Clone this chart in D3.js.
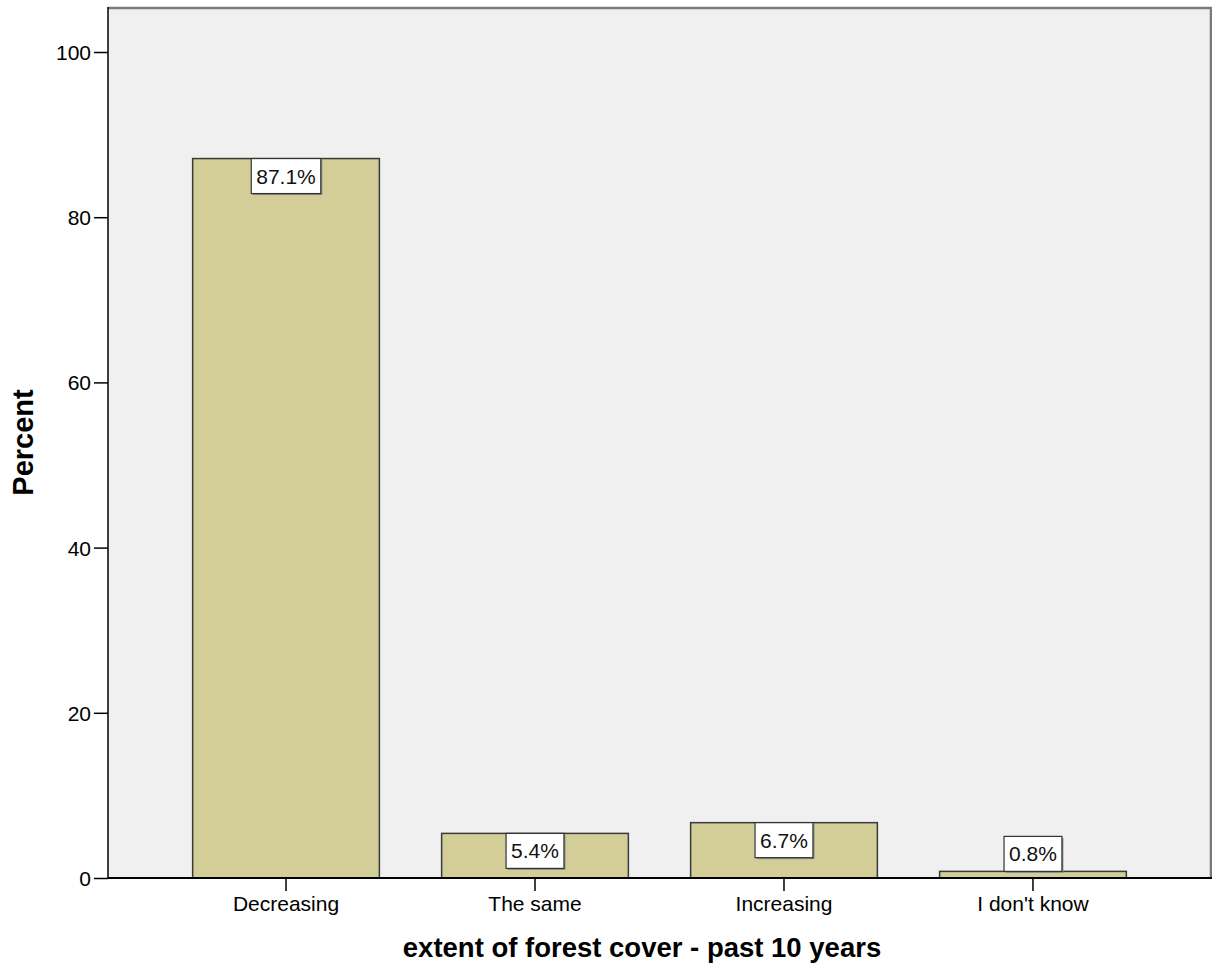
<!DOCTYPE html>
<html>
<head>
<meta charset="utf-8">
<script src="https://cdn.jsdelivr.net/npm/d3@7"></script>
<style>
    html, body { margin: 0; padding: 0; background: #fff; }
    svg { display: block; font-family: "Liberation Sans", Arial, sans-serif; }
</style>
</head>
<body>
<svg id="chart" width="1212" height="970"></svg>
<script>
// data
const categories = ["Decreasing", "The same", "Increasing", "I don't know"];
const percents = [87.1, 5.4, 6.7, 0.8];
const yTicks = [0, 20, 40, 60, 80, 100];
const xTitle = "extent of forest cover - past 10 years";
const yTitle = "Percent";

class percentBarChart {

    constructor({svg, plot = [7, 1211, 878, 108]}) {
        this.svg = d3.select(svg);
        // plot area edges: top, right, bottom, left
        this.plot = {top: plot[0], right: plot[1], bottom: plot[2], left: plot[3]};
        this.barFill = "#d3ce97";
        this.labelH = 35;
    }

    create(data) {
        this.data = data;
        this.scaleX = d3.scaleBand()
            .domain(data.map(d => d[0]))
            .range([this.plot.left, this.plot.right])
            .paddingInner(0.25)
            .paddingOuter(0.34);

        // 100 sits at y=52, top of frame a bit above it
        const perUnit = (this.plot.bottom - 52) / 100;
        this.scaleY = d3.scaleLinear()
            .domain([0, (this.plot.bottom - this.plot.top) / perUnit])
            .range([this.plot.bottom, this.plot.top]);

        this._drawBackground();
        this._drawBars();
        this._drawAxes();
        this._drawLabels();
        this._drawTitles();
    }

    _drawBackground() {
        const p = this.plot;
        this.svg.append("rect")
            .attr("x", p.left).attr("y", p.top)
            .attr("width", p.right - p.left).attr("height", p.bottom - p.top)
            .attr("fill", "#f0f0f0");
        // grey frame top and right
        this.svg.append("path")
            .attr("d", `M${p.left},${p.top + 1}H${p.right}V${p.bottom}`)
            .attr("fill", "none")
            .attr("stroke", "#7a7a7a")
            .attr("stroke-width", 2.5);
    }

    _drawBars() {
        const x = this.scaleX, y = this.scaleY;
        this.svg.append("g").selectAll(".bar").data(this.data).enter()
            .append("rect")
            .attr("class", "bar")
            .attr("x", d => x(d[0]))
            .attr("y", d => y(d[1]))
            .attr("width", x.bandwidth())
            .attr("height", d => y(0) - y(d[1]))
            .attr("fill", this.barFill)
            .attr("stroke", "#3a3a3a")
            .attr("stroke-width", 1.5);
    }

    _drawAxes() {
        const p = this.plot;
        const axisY = d3.axisLeft(this.scaleY).tickValues(yTicks).tickSize(14).tickPadding(3).tickSizeOuter(0);
        const gY = this.svg.append("g").attr("transform", `translate(${p.left},0)`).call(axisY);
        gY.select(".domain").attr("d", `M0,${p.top}V${p.bottom}`).attr("stroke-width", 1.5);

        const axisX = d3.axisBottom(this.scaleX).tickSize(13).tickPadding(5).tickSizeOuter(0);
        const gX = this.svg.append("g").attr("transform", `translate(0,${p.bottom})`).call(axisX);
        gX.select(".domain").attr("d", `M${p.left},0H1212`).attr("stroke-width", 2);

        [gY, gX].forEach(g => {
            g.selectAll(".tick line").attr("stroke", "#000").attr("stroke-width", 1.5);
            g.selectAll(".tick text")
                .attr("fill", "#000")
                .style("font-size", "21px")
                .style("font-family", "'Liberation Sans', Arial, sans-serif");
        });
        gY.selectAll(".tick text").attr("dy", "0.36em");
        gX.selectAll(".tick text").attr("dy", "0.71em");
    }

    _drawLabels() {
        const x = this.scaleX, y = this.scaleY, h = this.labelH;
        const g = this.svg.append("g");
        this.data.forEach(d => {
            const cx = x(d[0]) + x.bandwidth() / 2;
            const barTop = y(d[1]);
            // inside the bar when it fits, else above it
            const top = (y(0) - barTop) >= h ? barTop : barTop - h;
            const lg = g.append("g");
            const txt = lg.append("text")
                .attr("x", cx)
                .attr("y", top + h / 2 + 7.5)
                .attr("text-anchor", "middle")
                .attr("fill", "#111")
                .style("font-size", "21px")
                .text(d[1].toFixed(1) + "%");
            const w = txt.node().getComputedTextLength() + 10;
            lg.insert("rect", "text")
                .attr("x", cx - w / 2 + 1.5).attr("y", top + 1.5)
                .attr("width", w).attr("height", h)
                .attr("fill", "#8a8a8a");
            lg.insert("rect", "text")
                .attr("x", cx - w / 2).attr("y", top)
                .attr("width", w).attr("height", h)
                .attr("fill", "#fff")
                .attr("stroke", "#333")
                .attr("stroke-width", 1.2);
        });
    }

    _drawTitles() {
        const p = this.plot;
        this.svg.append("text")
            .attr("x", 642)
            .attr("y", 957)
            .attr("text-anchor", "middle")
            .attr("fill", "#000")
            .style("font-size", "27.5px")
            .style("font-weight", "bold")
            .text(xTitle);

        this.svg.append("text")
            .attr("transform", `translate(33,${(p.top + p.bottom) / 2}) rotate(-90)`)
            .attr("text-anchor", "middle")
            .attr("fill", "#000")
            .style("font-size", "29px")
            .style("font-weight", "bold")
            .text(yTitle);
    }
}

const chart = new percentBarChart({svg: document.getElementById("chart")});
chart.create(categories.map((c, i) => [c, percents[i]]));
</script>
</body>
</html>
